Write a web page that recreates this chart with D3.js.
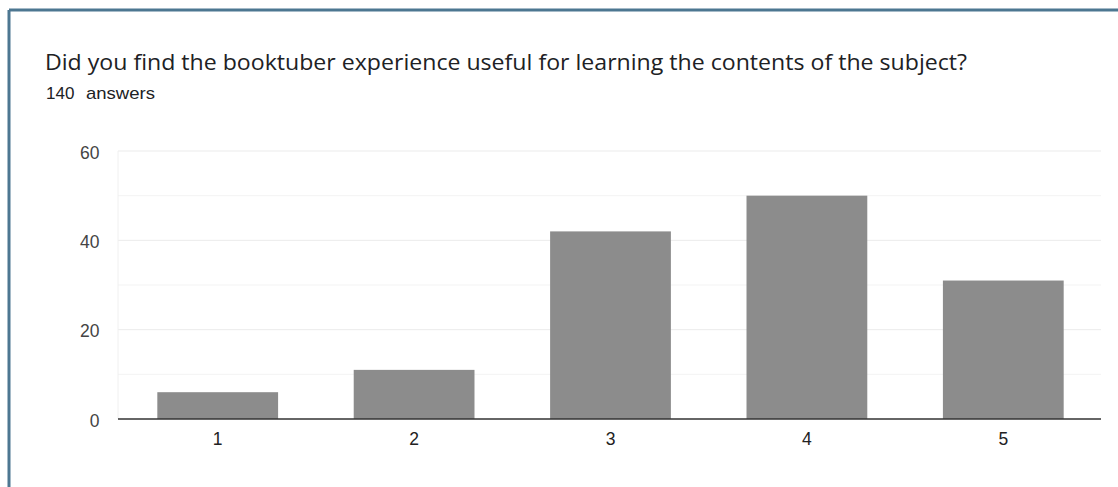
<!DOCTYPE html>
<html>
<head>
<meta charset="utf-8">
<script src="https://cdn.jsdelivr.net/npm/d3@7"></script>
<style>
  body { margin: 0; background: #fff; }
  svg { display: block; font-family: "Liberation Sans", Arial, sans-serif; }
</style>
</head>
<body>
<svg width="1118" height="487"></svg>
<script>
const categories = ["1", "2", "3", "4", "5"];
const counts = [6, 11, 42, 50, 31];
const yTicks = [0, 20, 40, 60];
const minorTicks = [10, 30, 50];
const title = "Did you find the booktuber experience useful for learning the contents of the subject?";
const totalAnswers = 140;

const svg = d3.select("svg");
const margin = { top: 151, right: 17, bottom: 68, left: 118 };
const width = +svg.attr("width") - margin.left - margin.right;
const height = +svg.attr("height") - margin.top - margin.bottom;

// card border (top + left)
svg.append("line").attr("x1", 9).attr("x2", 1118).attr("y1", 10).attr("y2", 10)
    .attr("stroke", "#4d7791").attr("stroke-width", 3);
svg.append("line").attr("x1", 9).attr("x2", 9).attr("y1", 10).attr("y2", 487)
    .attr("stroke", "#4d7791").attr("stroke-width", 3);

svg.append("text")
    .attr("x", 45).attr("y", 70)
    .attr("font-family", "'Open Sans', Roboto, sans-serif")
    .attr("font-size", 21)
    .attr("textLength", 922)
    .attr("lengthAdjust", "spacingAndGlyphs")
    .attr("fill", "#202124")
    .text(title);

svg.append("text")
    .attr("x", 46).attr("y", 99)
    .attr("font-size", 17)
    .attr("fill", "#202124")
    .text(totalAnswers);
svg.append("text")
    .attr("x", 86).attr("y", 99)
    .attr("font-size", 17)
    .attr("textLength", 69)
    .attr("lengthAdjust", "spacingAndGlyphs")
    .attr("fill", "#202124")
    .text("answers");

const g = svg.append("g").attr("transform", `translate(${margin.left},${margin.top})`);

const x = d3.scaleBand().domain(categories).range([2, width]).paddingInner(0.385).paddingOuter(0.19);
const y = d3.scaleLinear().domain([0, 60]).range([height, 0]);

// gridlines
g.selectAll(".minor").data(minorTicks).join("line")
    .attr("x1", 0).attr("x2", width)
    .attr("y1", d => y(d)).attr("y2", d => y(d))
    .attr("stroke", "#f3f3f3");
g.selectAll(".major").data(yTicks.filter(d => d > 0)).join("line")
    .attr("x1", 0).attr("x2", width)
    .attr("y1", d => y(d)).attr("y2", d => y(d))
    .attr("stroke", "#ebebeb");
g.append("line").attr("x1", 0).attr("x2", 0).attr("y1", 0).attr("y2", height)
    .attr("stroke", "#f0f0f0");

// y labels
g.selectAll(".ylab").data(yTicks).join("text")
    .attr("x", -18.5).attr("y", d => y(d) + 1.5)
    .attr("dy", "0.35em")
    .attr("text-anchor", "end")
    .attr("font-size", 17.5)
    .attr("fill", "#444")
    .text(d => d);

// bars
g.selectAll(".bar").data(counts).join("rect")
    .attr("x", (d, i) => x(categories[i]))
    .attr("width", x.bandwidth())
    .attr("y", d => y(d))
    .attr("height", d => height - y(d))
    .attr("fill", "#8c8c8c");

// baseline
g.append("line").attr("x1", 0).attr("x2", width).attr("y1", height).attr("y2", height)
    .attr("stroke", "#333").attr("stroke-width", 1.5);

// x labels
g.selectAll(".xlab").data(categories).join("text")
    .attr("x", d => x(d) + x.bandwidth() / 2)
    .attr("y", height + 20)
    .attr("dy", "0.35em")
    .attr("text-anchor", "middle")
    .attr("font-size", 17.5)
    .attr("fill", "#222")
    .text(d => d);
</script>
</body>
</html>
